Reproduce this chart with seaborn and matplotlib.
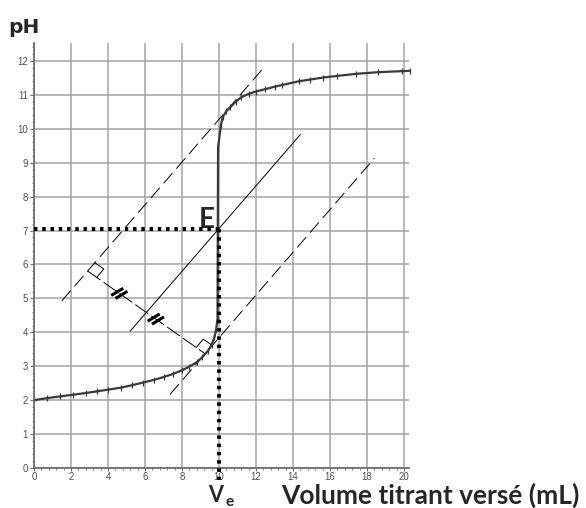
import numpy as np
import pandas as pd
import matplotlib
matplotlib.use("Agg")
import matplotlib.pyplot as plt
from matplotlib.ticker import MultipleLocator
import seaborn as sns

# Titration curve: added titrant volume (mL) and measured pH
volume = [0.0, 0.7, 1.4, 2.1, 2.8, 3.4, 4.0, 4.7, 5.3, 5.9, 6.5, 7.0, 7.5,
          8.0, 8.4, 8.8, 9.1, 9.4, 9.6, 9.75, 9.85, 9.92, 9.95, 10.1, 10.2,
          10.4, 10.6, 10.9, 11.2, 11.6, 12.0, 12.5, 13.0, 13.4, 14.3, 14.9,
          15.6, 16.4, 17.4, 18.6, 19.9, 20.3]
ph = [2.00, 2.06, 2.11, 2.16, 2.21, 2.26, 2.31, 2.37, 2.44, 2.52, 2.60, 2.68,
      2.77, 2.88, 2.99, 3.12, 3.27, 3.45, 3.63, 3.85, 4.10, 4.40, 9.45, 10.10,
      10.35, 10.52, 10.63, 10.80, 10.93, 11.03, 11.10, 11.17, 11.24, 11.29,
      11.40, 11.45, 11.51, 11.56, 11.62, 11.67, 11.70, 11.71]

# Parallel tangents method: common slope and intercepts
slope = 0.63
upper_b = 3.98
lower_b = -2.46
upper_span = [1.5, 12.5]
mid_span = [5.2, 14.4]
lower_span = [7.35, 18.4]
perp_x = [2.9, 9.25]      # feet of the perpendicular on upper / lower tangent
mark_frac = [0.27, 0.58]  # positions of the "equal length" marks
ve = 10.0

x_ticks = list(range(0, 21, 2))
y_ticks = list(range(0, 13))

sns.set_style("ticks")
plt.rcParams["font.family"] = ["DejaVu Sans"]

W, H = 586, 508
fig = plt.figure(figsize=(W / 100, H / 100), dpi=100)
ax = fig.add_axes([34 / W, 1 - 468 / H, 375 / W, 425 / H])
ax.set_xlim(0, 20.27)
ax.set_ylim(0, 12.53)

# grid and axes styling
ax.set_xticks(x_ticks)
ax.set_yticks(y_ticks)
ax.xaxis.set_minor_locator(MultipleLocator(0.4))
ax.yaxis.set_minor_locator(MultipleLocator(0.2))
ax.grid(True, which="major", color="#a4a4a4", lw=1.1)
ax.set_axisbelow(True)
for s in ["top", "right"]:
    ax.spines[s].set_visible(False)
for s in ["left", "bottom"]:
    ax.spines[s].set_color("#6e6e6e")
    ax.spines[s].set_linewidth(1.3)
ax.tick_params(which="major", length=2.5, width=0.8, color="#6e6e6e",
               labelsize=7, labelcolor="#505050", pad=0.6)
ax.tick_params(which="minor", length=1.6, width=0.6, color="#6e6e6e")
ax.tick_params(axis="y", which="major", length=3, pad=1.2)
for lab in ax.get_xticklabels() + ax.get_yticklabels():
    lab.set_fontfamily("Liberation Sans")

# tangent lines
def tline(span, b):
    xs = np.array(span)
    return xs, slope * xs + b

mid_b = (upper_b + lower_b) / 2
xs, ys = tline(upper_span, upper_b)
ax.plot(xs, ys, color="black", lw=0.7, dashes=(14, 6))
xs, ys = tline(lower_span, lower_b)
ax.plot(xs, ys, color="black", lw=0.7, dashes=(14, 6))
xs, ys = tline(mid_span, mid_b)
ax.plot(xs, ys, color="black", lw=0.7)

# perpendicular between the two tangents
p0 = np.array([perp_x[0], slope * perp_x[0] + upper_b])
p1 = np.array([perp_x[1], slope * perp_x[1] + lower_b])
ax.plot([p0[0], p1[0]], [p0[1], p1[1]], color="black", lw=0.7, dashes=(16, 4))

to_px = ax.transData.transform
to_data = ax.transData.inverted().transform
d0, d1 = to_px(p0), to_px(p1)
u_perp = (d1 - d0) / np.linalg.norm(d1 - d0)
t_dir = to_px([1, slope]) - to_px([0, 0])
u_tan = t_dir / np.linalg.norm(t_dir)

# right-angle markers
sq = 11
for corner, pd_sign in [(d0, 1), (d1, -1)]:
    a = corner + u_tan * sq
    b = corner + u_tan * sq + pd_sign * u_perp * sq
    c = corner + pd_sign * u_perp * sq
    pts = to_data(np.array([a, b, c]))
    ax.plot(pts[:, 0], pts[:, 1], color="black", lw=0.7)

# equal-length marks (double strokes)
stroke_dir = np.array([np.cos(np.radians(31)), np.sin(np.radians(31))])
for f in mark_frac:
    centre = d0 + (d1 - d0) * f
    for off in (-2.6, 2.6):
        c = centre + u_perp * off
        seg = np.array([c - stroke_dir * 7, c + stroke_dir * 7])
        seg = to_data(seg)
        ax.plot(seg[:, 0], seg[:, 1], color="black", lw=2.2,
                solid_capstyle="butt")

# titration curve
df = pd.DataFrame({"V": volume, "pH": ph})
sns.lineplot(data=df, x="V", y="pH", ax=ax, color="#3a3a3a", lw=1.6,
             sort=False, estimator=None, marker="|", markersize=4.5,
             markeredgewidth=0.9, markeredgecolor="#3a3a3a", clip_on=False)
ax.set_xlabel("")
ax.set_ylabel("")

# equivalence point construction
ph_e = slope * ve + mid_b
ax.plot([0, ve], [ph_e, ph_e], color="black", lw=2.9, dashes=(0.85, 1.2),
        dash_capstyle="butt", zorder=5)
ax.plot([ve, ve], [ph_e, -0.35], color="black", lw=2.9, dashes=(0.85, 1.2),
        dash_capstyle="butt", zorder=5, clip_on=False)

ax.annotate("E", xy=(ve, ph_e), xytext=(-4, 1), textcoords="offset pixels",
            ha="right", va="baseline", fontsize=20, fontweight="bold",
            fontfamily="Lato")
ax.annotate("V", xy=(ve, 0), xytext=(-3, -34), textcoords="offset pixels",
            ha="center", va="baseline", fontsize=15.5, fontweight="bold",
            fontfamily="Lato", annotation_clip=False)
ax.annotate("e", xy=(ve, 0), xytext=(6, -38), textcoords="offset pixels",
            ha="left", va="baseline", fontsize=11, fontweight="bold",
            fontfamily="Lato", annotation_clip=False)

fig.text(281 / W, 1 - 503.5 / H, "Volume titrant versé (mL)", ha="left",
         va="baseline", fontsize=19.0, fontweight="bold", fontfamily="Lato")
fig.text(8 / W, 1 - 33 / H, "pH", ha="left", va="baseline", fontsize=14.5,
         fontweight="bold", fontfamily="DejaVu Sans")

fig.savefig("out.png", dpi=100)
